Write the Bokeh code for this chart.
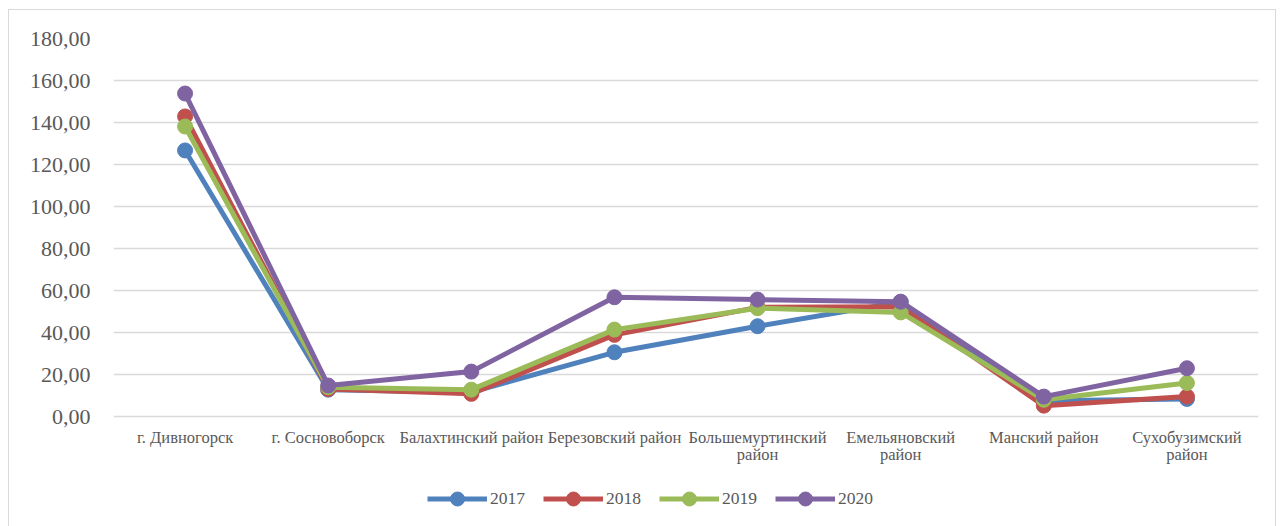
from bokeh.plotting import figure
from bokeh.models import FixedTicker, Legend, LegendItem, FactorRange, ColumnDataSource
from bokeh.core.properties import value
from bokeh.embed import file_html
from bokeh.resources import INLINE

categories = ["г. Дивногорск", "г. Сосновоборск", "Балахтинский район", "Березовский район",
              "Большемуртинский район", "Емельяновский район", "Манский район", "Сухобузимский район"]
label_line1 = ["г. Дивногорск", "г. Сосновоборск", "Балахтинский район", "Березовский район",
               "Большемуртинский", "Емельяновский", "Манский район", "Сухобузимский"]
label_line2 = ["", "", "", "", "район", "район", "", "район"]
years = ["2017", "2018", "2019", "2020"]
v2017 = [126.7, 12.8, 11.6, 30.6, 43.0, 54.5, 7.5, 8.4]
v2018 = [142.9, 13.1, 10.8, 38.9, 52.0, 52.3, 5.2, 9.5]
v2019 = [138.1, 14.0, 12.8, 41.4, 51.6, 49.6, 8.0, 16.0]
v2020 = [153.8, 14.8, 21.4, 56.8, 55.7, 54.7, 9.5, 23.0]
y_ticks = [0, 20, 40, 60, 80, 100, 120, 140, 160, 180]
y_tick_labels = ["0,00", "20,00", "40,00", "60,00", "80,00", "100,00", "120,00", "140,00", "160,00", "180,00"]

series = [v2017, v2018, v2019, v2020]
colors = ["#4f81bd", "#c0504d", "#9bbb59", "#8064a2"]
FONT = "Liberation Serif"
TXT = "#595959"

p = figure(width=1268, height=518, output_backend="svg", toolbar_location=None,
           x_range=FactorRange(*categories), y_range=(-53.3, 180),
           min_border_left=104, min_border_right=19, min_border_top=28, min_border_bottom=0)
p.styles = {"margin": "9px 0px 0px 8px", "border": "1px solid #d9d9d9"}
p.outline_line_color = None

p.yaxis.ticker = FixedTicker(ticks=y_ticks)
p.yaxis.major_label_overrides = {t: l for t, l in zip(y_ticks, y_tick_labels)}
p.yaxis.axis_line_color = None
p.yaxis.major_tick_line_color = None
p.yaxis.minor_tick_line_color = None
p.yaxis.major_label_text_font = FONT
p.yaxis.major_label_text_font_size = "22px"
p.yaxis.major_label_text_color = TXT
p.yaxis.major_label_standoff = 17

p.xaxis.visible = False
p.xgrid.grid_line_color = None
p.ygrid.grid_line_color = "#d9d9d9"
p.ygrid.grid_line_width = 1.5

base = [y_ticks[0]] * len(categories)
lab_src = ColumnDataSource(dict(x=categories, y=base, t1=label_line1, t2=label_line2))
p.text(x="x", y="y", text="t1", source=lab_src, y_offset=11, text_align="center",
       text_baseline="top", text_font=value(FONT), text_font_size="16.5px", text_color=TXT)
p.text(x="x", y="y", text="t2", source=lab_src, y_offset=28, text_align="center",
       text_baseline="top", text_font=value(FONT), text_font_size="16.5px", text_color=TXT)

items = []
for yr, vals, c in zip(years, series, colors):
    l = p.line(categories, vals, line_color=c, line_width=5)
    s = p.scatter(categories, vals, fill_color=c, line_color=c, size=15)
    items.append(LegendItem(label=yr, renderers=[l, s]))

legend = Legend(items=items, orientation="horizontal", location=(314, 12),
                glyph_width=60, glyph_height=35, label_standoff=3, spacing=18,
                padding=0, margin=0, border_line_color=None, background_fill_alpha=0,
                label_text_font=FONT, label_text_font_size="17.5px", label_text_color=TXT)
p.add_layout(legend, "center")

open("out.html", "w").write(file_html(p, INLINE))
